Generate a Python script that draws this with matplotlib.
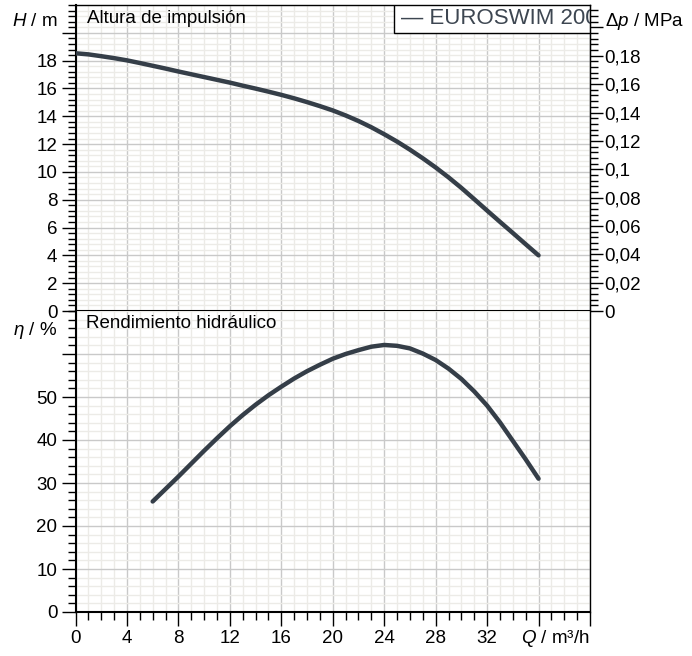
import matplotlib
matplotlib.use("Agg")
import matplotlib.pyplot as plt
from matplotlib.ticker import FixedLocator, MultipleLocator, FuncFormatter
from matplotlib.patches import Rectangle

plt.rcParams['font.family'] = ['Liberation Sans', 'DejaVu Sans']
plt.rcParams['font.size'] = 13.5
plt.rcParams['mathtext.fontset'] = 'custom'
plt.rcParams['mathtext.rm'] = 'Liberation Sans'
plt.rcParams['mathtext.it'] = 'Liberation Sans:italic'
plt.rcParams['mathtext.bf'] = 'Liberation Sans:bold'

# ---- data ----
q_head = [0, 1, 2, 3, 4, 5, 6, 7, 8, 9, 10, 11, 12, 13, 14, 15, 16, 17, 18,
          19, 20, 21, 22, 23, 24, 25, 26, 27, 28, 29, 30, 31, 32, 33, 34, 35, 36]
head = [18.53, 18.45, 18.32, 18.18, 18.02, 17.83, 17.63, 17.43, 17.22, 17.02,
        16.82, 16.62, 16.42, 16.2, 15.99, 15.77, 15.54, 15.29, 15.02, 14.73,
        14.42, 14.06, 13.66, 13.21, 12.71, 12.18, 11.6, 10.98, 10.32, 9.61,
        8.85, 8.04, 7.22, 6.41, 5.61, 4.80, 4.0]

q_eff = [6, 7, 8, 9, 10, 11, 12, 13, 14, 15, 16, 17, 18, 19, 20, 21, 22, 23,
         24, 25, 26, 27, 28, 29, 30, 31, 32, 33, 34, 35, 36]
eff = [25.7, 28.6, 31.5, 34.5, 37.5, 40.4, 43.2, 45.8, 48.2, 50.4, 52.4, 54.3,
       56.0, 57.5, 58.9, 60.0, 60.9, 61.7, 62.1, 61.9, 61.3, 60.1, 58.6, 56.6,
       54.2, 51.3, 48.0, 44.1, 39.8, 35.5, 31.0]

series_name = "EUROSWIM 200"
x_ticks = [0, 4, 8, 12, 16, 20, 24, 28, 32, 36, 40]
x_labels = ["0", "4", "8", "12", "16", "20", "24", "28", "32", "", ""]
h_ticks = [0, 2, 4, 6, 8, 10, 12, 14, 16, 18, 20]
h_labels = ["0", "2", "4", "6", "8", "10", "12", "14", "16", "18", ""]
dp_ticks = [0, 0.02, 0.04, 0.06, 0.08, 0.1, 0.12, 0.14, 0.16, 0.18, 0.2]
dp_labels = ["0", "0,02", "0,04", "0,06", "0,08", "0,1", "0,12", "0,14", "0,16", "0,18", ""]
eta_ticks = [0, 10, 20, 30, 40, 50, 60]
eta_labels = ["0", "10", "20", "30", "40", "50", ""]

RHO_G = 0.00981  # MPa per m of head
H_MAX = 22
ETA_MAX = 70
Q_MAX = 40

LINE_C = '#353e48'
MAJ_GRID = '#c9c9c9'
MIN_GRID = '#ecebe7'
FS = 13.5

fig = plt.figure(figsize=(6.92, 6.56), dpi=100)
W, Hh = 692, 656
left_px, right_px = 75.5, 590
ax1 = fig.add_axes([left_px / W, (Hh - 311) / Hh, (right_px - left_px) / W, 306 / Hh])
ax2 = fig.add_axes([left_px / W, (Hh - 612) / Hh, (right_px - left_px) / W, 301 / Hh])


def style_axes(ax):
    ax.set_axisbelow(True)
    ax.grid(which='major', color=MAJ_GRID, lw=1.0)
    ax.grid(which='minor', color=MIN_GRID, lw=1.0)
    ax.tick_params(which='major', direction='out', length=10, width=1, color='black', labelsize=FS, pad=3)
    ax.tick_params(which='minor', direction='out', length=6, width=1, color='black')
    for s in ax.spines.values():
        s.set_color('black')
        s.set_linewidth(1)
    ax.spines['left'].set_linewidth(1.5)
    ax.spines['bottom'].set_linewidth(1.5)


def pick(labels, ticks):
    return FuncFormatter(lambda v, p: labels[min(range(len(ticks)), key=lambda i: abs(ticks[i] - v))])


# ---- top panel: head ----
ax1.plot(q_head, head, color=LINE_C, lw=3.2, solid_capstyle='round', solid_joinstyle='round', zorder=3)
ax1.set_xlim(0, Q_MAX)
ax1.set_ylim(0, H_MAX)
ax1.xaxis.set_major_locator(FixedLocator(x_ticks))
ax1.xaxis.set_minor_locator(MultipleLocator(1))
ax1.yaxis.set_major_locator(FixedLocator(h_ticks))
ax1.yaxis.set_major_formatter(pick(h_labels, h_ticks))
ax1.yaxis.set_minor_locator(MultipleLocator(0.4))
style_axes(ax1)
ax1.tick_params(axis='x', which='both', bottom=False, labelbottom=False)

# right axis: pressure
axr = ax1.twinx()
axr.set_ylim(0, H_MAX * RHO_G)
axr.yaxis.set_major_locator(FixedLocator(dp_ticks))
axr.yaxis.set_major_formatter(pick(dp_labels, dp_ticks))
axr.yaxis.set_minor_locator(MultipleLocator(0.004))
axr.tick_params(which='major', direction='out', length=9, width=1, color='black', labelsize=FS, pad=1.5)
axr.tick_params(which='minor', direction='out', length=6, width=1, color='black')
for s in axr.spines.values():
    s.set_visible(False)
axr.spines['right'].set_visible(True)
axr.spines['right'].set_color('black')

ax1.annotate(r'$H$ / m', xy=(0, 20.8), xycoords=('axes fraction', 'data'),
             xytext=(-18, 0), textcoords='offset pixels', ha='right', va='center', fontsize=FS)
axr.annotate(r'$\Delta p$ / MPa', xy=(1, 20.8 * RHO_G), xycoords=('axes fraction', 'data'),
             xytext=(15, 0), textcoords='offset pixels', ha='left', va='center', fontsize=FS)
ax1.annotate('Altura de impulsión', xy=(0, 1), xycoords='axes fraction',
             xytext=(11.5, -18), textcoords='offset pixels', ha='left', va='baseline', fontsize=FS)

# legend box
box = Rectangle((0.619, 1 - 28 / 306), 0.381, 28 / 306, transform=ax1.transAxes,
                facecolor='white', edgecolor='black', lw=1, zorder=5)
ax1.add_patch(box)
ax1.text(0.632, 1 - 14 / 306, '— ' + series_name, transform=ax1.transAxes, ha='left', va='center',
         fontsize=16, color='#3d4651', zorder=6, clip_on=True)

# ---- bottom panel: efficiency ----
ax2.plot(q_eff, eff, color=LINE_C, lw=3.2, solid_capstyle='round', solid_joinstyle='round', zorder=3)
ax2.set_xlim(0, Q_MAX)
ax2.set_ylim(0, ETA_MAX)
ax2.xaxis.set_major_locator(FixedLocator(x_ticks))
ax2.xaxis.set_major_formatter(pick(x_labels, x_ticks))
ax2.xaxis.set_minor_locator(MultipleLocator(1))
ax2.yaxis.set_major_locator(FixedLocator(eta_ticks))
ax2.yaxis.set_major_formatter(pick(eta_labels, eta_ticks))
ax2.yaxis.set_minor_locator(MultipleLocator(2))
style_axes(ax2)
ax2.spines['top'].set_visible(False)

ax2.annotate(r'$\eta$ / %', xy=(0, 65.5), xycoords=('axes fraction', 'data'),
             xytext=(-18, 0), textcoords='offset pixels', ha='right', va='center', fontsize=FS)
ax2.annotate('Rendimiento hidráulico', xy=(0, 1), xycoords='axes fraction',
             xytext=(11, -17), textcoords='offset pixels', ha='left', va='baseline', fontsize=FS)
ax2.annotate(r'$Q$ / m³/h', xy=(1, 0), xycoords='axes fraction',
             xytext=(0, -16), textcoords='offset pixels', ha='right', va='top', fontsize=FS)

fig.savefig('out.png', dpi=100)
